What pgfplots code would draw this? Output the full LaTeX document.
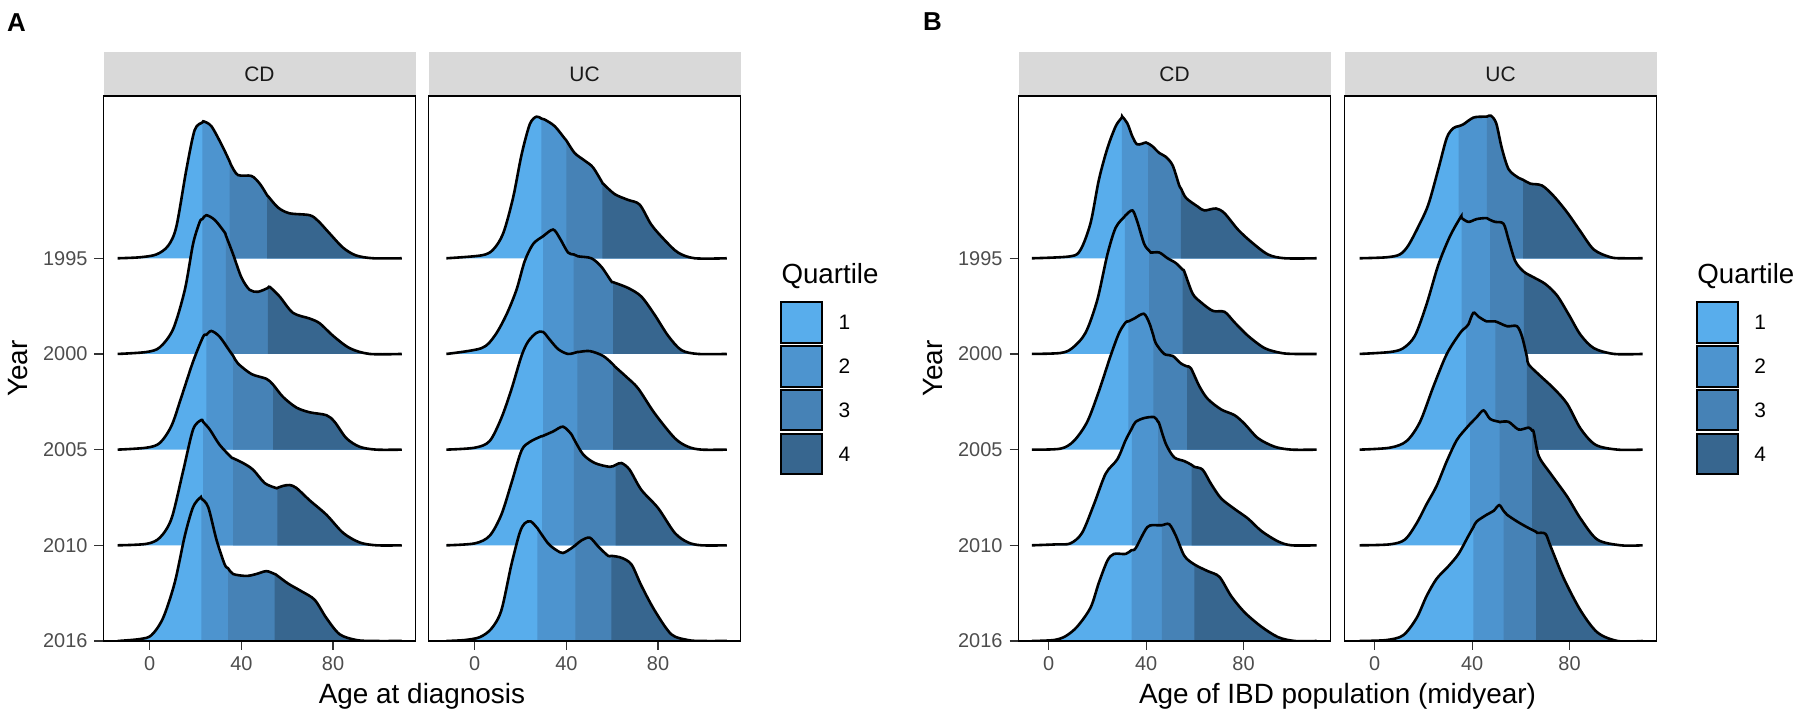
\documentclass[border=0pt]{standalone}
\usepackage{fontspec}
\setmainfont{Liberation Sans}
\usepackage{pgfplots}
\pgfplotsset{compat=1.18}
\usepackage{pgfplotstable}

\definecolor{qa}{HTML}{58ADEC}
\definecolor{qb}{HTML}{4D94CF}
\definecolor{qc}{HTML}{4682B6}
\definecolor{qd}{HTML}{37668F}
\definecolor{tickgrey}{HTML}{4D4D4D}
\definecolor{stripgrey}{HTML}{D9D9D9}

% ---------- Panel A, CD (age at diagnosis) ----------
\pgfplotstableread{
x h
-14 0
-4.4 0.01
2.9 0.04
8 0.13
11.6 0.33
16 0.93
19.6 1.34
23 1.42
23.6 1.43
26.9 1.38
31.3 1.19
34.9 1.01
35.6 0.97
38.5 0.87
44.4 0.86
48 0.78
51.2 0.66
51.6 0.65
56 0.53
61 0.47
69.8 0.45
73.5 0.39
78.5 0.26
84.4 0.11
90 0.03
97.5 0
110 0
}\aCDa
\pgfplotstableread{
x h
-14 0
-1.5 0.02
4.4 0.07
10.2 0.26
15.3 0.67
18.9 1.15
21.8 1.38
23 1.41
24.7 1.45
28.4 1.40
32.7 1.27
33.2 1.24
36.4 1.04
40 0.80
43.6 0.67
47.3 0.65
51.6 0.69
52.4 0.70
56.7 0.60
62.5 0.43
69.8 0.37
74.2 0.32
80 0.19
87.3 0.06
96 0
110 0
}\aCDb
\pgfplotstableread{
x h
-14 0
-1.5 0.02
4.4 0.07
9.5 0.25
13.8 0.55
18.9 0.92
23.3 1.18
24.7 1.20
26.9 1.24
30.5 1.18
34.9 1.03
36.4 0.98
38.5 0.90
44.4 0.79
50.9 0.74
53.8 0.68
58.2 0.55
64 0.44
69.8 0.39
77.1 0.36
80.7 0.29
85.8 0.12
91.6 0.03
98.9 0
110 0
}\aCDc
\pgfplotstableread{
x h
-14 0
-1.5 0.015
4.4 0.08
9.5 0.28
14.5 0.77
18.9 1.21
22.5 1.31
23.3 1.29
26.2 1.21
30.5 1.05
35.6 0.92
36.4 0.91
40.7 0.86
45.1 0.79
50.2 0.65
55 0.60
55.7 0.60
58 0.62
61 0.63
64 0.60
69.8 0.47
77.1 0.32
84.4 0.13
91.6 0.03
99 0
110 0
}\aCDd
\pgfplotstableread{
x h
-14 0
-4.4 0.02
0.7 0.06
5.8 0.24
10.9 0.61
15.3 1.10
18.9 1.40
22.1 1.50
22.5 1.49
25.5 1.40
29.1 1.06
32.7 0.80
34.2 0.76
36.4 0.70
42.2 0.68
46.5 0.70
50.9 0.73
54.5 0.70
55.3 0.69
60.4 0.60
66.2 0.52
72 0.43
77.1 0.24
82.9 0.07
90.2 0.01
97.5 0
110 0
}\aCDe

% ---------- Panel A, UC ----------
\pgfplotstableread{
x h
-12.4 0
2.9 0.03
8 0.09
12.4 0.26
16.7 0.63
20.4 1.08
24 1.40
26.9 1.48
29.1 1.46
30.5 1.45
34.9 1.38
39.3 1.25
40 1.23
43.6 1.10
48 1.02
51.6 0.95
55.7 0.79
56 0.78
61.1 0.67
66.9 0.61
72 0.56
77.1 0.35
82.9 0.19
88.7 0.06
96 0
110 0
}\aUCa
\pgfplotstableread{
x h
-12.4 0
2.9 0.06
8.7 0.19
13.8 0.41
18.2 0.67
21.8 0.97
25.5 1.15
29.8 1.23
34.2 1.30
37.1 1.21
40.7 1.06
43.2 1.04
45.1 1.02
50.9 1.00
55.3 0.91
59.6 0.76
60.4 0.75
66.9 0.69
72.7 0.60
78.5 0.41
84.4 0.19
90.2 0.04
97.5 0
110 0
}\aUCb
\pgfplotstableread{
x h
-12.4 0
0 0.02
6.5 0.09
11.6 0.33
16 0.63
20.4 0.98
23.3 1.13
26.9 1.22
29.8 1.23
32.7 1.15
36.4 1.05
40.7 1.00
44.8 1.02
45.1 1.02
50.2 1.03
56 0.98
60.4 0.89
61.1 0.87
66.2 0.76
71.3 0.64
78.5 0.38
87.3 0.12
93.1 0.03
99 0
110 0
}\aUCc
\pgfplotstableread{
x h
-12.4 0
0 0.02
6.5 0.10
11.6 0.32
16 0.65
20.4 0.99
24 1.08
29.1 1.14
29.4 1.14
34.2 1.19
38.5 1.24
42.2 1.16
43.3 1.11
47.3 0.95
52.4 0.86
58.9 0.82
61.5 0.84
64 0.86
67.6 0.79
72.7 0.58
80 0.39
87.3 0.13
93.1 0.03
99 0
110 0
}\aUCd
\pgfplotstableread{
x h
-12.4 0
-4.4 0.01
2.2 0.04
7.3 0.13
11.6 0.32
16 0.80
19.6 1.13
21.8 1.23
24.4 1.25
27.3 1.18
27.6 1.17
32 1.02
35.6 0.95
38.5 0.92
42.2 0.97
43.9 1.00
46.5 1.05
50.2 1.08
53.8 0.99
58.2 0.89
59.6 0.89
64 0.87
68.4 0.80
72.7 0.58
78.5 0.32
85.8 0.07
93.1 0.01
99 0
110 0
}\aUCe

% ---------- Panel B, CD (age of IBD population) ----------
\pgfplotstableread{
x h
-6.9 0
8.9 0.02
13.1 0.09
17.2 0.37
20.6 0.82
24.1 1.15
27.5 1.38
30 1.47
30.2 1.48
32.3 1.41
34.4 1.27
36.4 1.19
39.9 1.21
40.8 1.20
42.6 1.17
45.4 1.10
48.1 1.06
50.9 0.97
53.6 0.76
54.3 0.73
56.4 0.63
61.2 0.54
63.9 0.50
68.7 0.52
72.2 0.47
77.7 0.30
83.2 0.17
90 0.04
96.9 0
110 0
}\bCDa
\pgfplotstableread{
x h
-6.9 0
4.8 0.01
9.6 0.06
15.1 0.22
19.9 0.56
24.1 1.04
27.5 1.32
31.3 1.44
31.6 1.45
34.4 1.50
36.4 1.38
39.2 1.15
41.2 1.08
41.9 1.06
45.4 1.06
48.8 1.00
52.2 0.95
55 0.88
55.7 0.86
59.1 0.63
62.5 0.54
67.4 0.45
72.2 0.44
76.3 0.33
81.8 0.19
88.7 0.06
95.5 0.01
101 0
110 0
}\bCDb
\pgfplotstableread{
x h
-6.9 0
4.8 0.01
10.3 0.09
15.8 0.29
20.6 0.61
25.4 0.98
28.9 1.22
31.6 1.33
32.7 1.34
35.1 1.37
39 1.42
41.2 1.33
43 1.19
44 1.11
47.4 1.00
50.9 0.98
54.3 0.90
56.8 0.87
58.4 0.85
61.9 0.66
65.3 0.53
70.8 0.42
76.3 0.36
80.4 0.27
85.9 0.12
92.8 0.03
99.7 0
110 0
}\bCDc
\pgfplotstableread{
x h
-6.9 0
3.4 0.01
8.9 0.02
13.7 0.13
18.6 0.43
23.4 0.75
28.2 0.90
31.6 1.10
34.1 1.22
35.7 1.29
39.2 1.33
43.3 1.34
44.9 1.29
45.4 1.27
48.1 1.06
51.5 0.92
55.7 0.88
58.7 0.84
59.8 0.82
63.2 0.79
66.7 0.64
70.8 0.49
76.3 0.38
81.8 0.28
87.3 0.15
94.2 0.04
99.7 0
110 0
}\bCDd
\pgfplotstableread{
x h
-6.9 0
2.1 0.01
6.9 0.05
11.7 0.15
17.2 0.35
20.6 0.61
24.1 0.84
26.8 0.91
31.6 0.91
34 0.95
35.7 0.97
40.5 1.19
44.7 1.21
46.5 1.21
49.5 1.22
52.2 1.10
55.7 0.89
59.8 0.80
65.3 0.73
70.1 0.67
74.9 0.47
80.4 0.30
87.3 0.15
94.2 0.04
101 0
110 0
}\bCDe

% ---------- Panel B, UC ----------
\pgfplotstableread{
x h
-6.2 0
4.8 0.01
10.3 0.04
13.7 0.13
17.9 0.33
22 0.56
26.1 0.93
29.6 1.26
32.3 1.36
34.4 1.38
36.4 1.40
40.5 1.47
44.7 1.48
46 1.48
47.7 1.49
49.9 1.41
52.2 1.15
55 0.93
59.1 0.84
60.9 0.82
63.9 0.78
68.7 0.76
73.5 0.65
79 0.48
84.5 0.28
90 0.09
96.9 0.01
102 0
110 0
}\bUCa
\pgfplotstableread{
x h
-6.2 0
6.2 0.02
11.7 0.06
16.5 0.19
21.3 0.52
26.1 0.93
30.9 1.23
35.3 1.43
35.7 1.42
38.5 1.38
41.9 1.41
46 1.42
47.4 1.40
49.5 1.38
52.9 1.36
55 1.19
57.7 0.97
61.2 0.86
65.3 0.80
70.1 0.73
74.9 0.61
79.7 0.41
84.5 0.20
90 0.06
98.3 0
110 0
}\bUCb
\pgfplotstableread{
x h
-6.2 0
6.2 0.02
13.1 0.09
18.6 0.29
24.1 0.66
29.6 1.00
35.1 1.22
37.5 1.28
38.5 1.31
40.5 1.43
42.6 1.39
46 1.34
49.5 1.34
54.3 1.29
58.4 1.29
60.5 1.18
62.5 0.97
63.2 0.89
68 0.77
73.5 0.64
79 0.48
84.5 0.22
90.7 0.05
99.7 0
110 0
}\bUCc
\pgfplotstableread{
x h
-6.2 0
6.2 0.01
12.4 0.06
17.2 0.23
21.3 0.43
25.4 0.62
29.6 0.88
33.7 1.10
37.8 1.23
39.2 1.27
41.9 1.34
44.7 1.41
47.4 1.32
51.3 1.29
51.5 1.29
55 1.29
59.1 1.21
63.2 1.23
64.6 1.20
65.3 1.18
67.4 0.93
72.2 0.75
79 0.51
84.5 0.28
91.4 0.06
101 0
110 0
}\bUCd
\pgfplotstableread{
x h
-6.2 0
4.8 0.01
11.7 0.06
17.2 0.24
21.3 0.47
25.4 0.65
30.2 0.78
34.4 0.91
38.5 1.10
40.5 1.19
41.9 1.25
46 1.32
48.8 1.36
51.1 1.42
52.9 1.36
54.3 1.32
58.4 1.25
62.5 1.19
66.3 1.14
66.7 1.13
70.1 1.12
72.2 0.99
77.7 0.65
84.5 0.32
91.4 0.09
99.7 0
110 0
}\bUCe

% #1 table, #2 baseline shift, #3 #4 #5 quartile cut points
% fills are layered left to right so that no seam shows between quartiles
\newcommand{\ridge}[5]{%
\addplot[fill=qa, draw=none, smooth, yshift=#2, forget plot] table[x=x, y=h] {#1} \closedcycle;
\addplot[fill=qb, draw=none, smooth, yshift=#2, restrict x to domain=#3:200, forget plot] table[x=x, y=h] {#1} \closedcycle;
\addplot[fill=qc, draw=none, smooth, yshift=#2, restrict x to domain=#4:200, forget plot] table[x=x, y=h] {#1} \closedcycle;
\addplot[fill=qd, draw=none, smooth, yshift=#2, restrict x to domain=#5:200, forget plot] table[x=x, y=h] {#1} \closedcycle;
\addplot[black, line width=1.3bp, smooth, yshift=#2, forget plot] table[x=x, y=h] {#1};
}

\pgfplotsset{ridgebase/.style={
  scale only axis, width=156bp, height=272.5bp,
  anchor=south west,
  ymin=0, ymax=5.696,
  axis on top,
  xtick={0,40,80}, xticklabels={0,40,80},
  ytick={0,1,2,3,4}, yticklabels={2016,2010,2005,2000,1995},
  tick pos=left, tick align=outside,
  major tick length=4.5bp,
  tick style={line width=0.6bp, color=black!80},
  axis line style={line width=0.7bp, black},
  tick label style={font=\fontsize{10}{12}\selectfont, text=tickgrey},
  /pgf/number format/assume math mode=true,
  clip=true,
}}

\newcommand{\qlegend}[1]{%
\begin{scope}[shift={(#1bp,0bp)}]
\node[anchor=west, inner sep=0pt, font=\fontsize{13.9}{16}\selectfont] at (0.2bp,220bp) {Quartile};
\draw[fill=qa, line width=1bp] (0bp,206.85bp) rectangle (20.8bp,186.65bp);
\draw[fill=qb, line width=1bp] (0bp,184.9bp) rectangle (20.8bp,164.7bp);
\draw[fill=qc, line width=1bp] (0bp,162.95bp) rectangle (20.8bp,142.75bp);
\draw[fill=qd, line width=1bp] (0bp,141.0bp) rectangle (20.8bp,120.8bp);
\node[anchor=west, inner sep=0pt, font=\fontsize{10.5}{12}\selectfont] at (28.7bp,196.75bp) {1};
\node[anchor=west, inner sep=0pt, font=\fontsize{10.5}{12}\selectfont] at (28.7bp,174.8bp) {2};
\node[anchor=west, inner sep=0pt, font=\fontsize{10.5}{12}\selectfont] at (28.7bp,152.85bp) {3};
\node[anchor=west, inner sep=0pt, font=\fontsize{10.5}{12}\selectfont] at (28.7bp,130.9bp) {4};
\end{scope}}

\newcommand{\strip}[2]{%
\fill[stripgrey] (#1bp,310bp) rectangle ++(156bp,22bp);
\node[font=\fontsize{10.5}{12}\selectfont, text=black!90] at ([xshift=78bp]#1bp,321bp) {#2};
}

\begin{document}
\begin{tikzpicture}
\path[use as bounding box] (0,0) rectangle (900bp,358bp);

\strip{51.75}{CD}
\strip{214.25}{UC}
\strip{509.25}{CD}
\strip{672.25}{UC}

% A - CD
\begin{axis}[ridgebase, at={(51.75bp,37.5bp)}, xmin=-20.2, xmax=116]
\ridge{\aCDa}{191.3624bp}{23}{34.9}{51.2}
\ridge{\aCDb}{143.5218bp}{23}{33.2}{51.6}
\ridge{\aCDc}{95.6812bp}{24.7}{36.4}{53.8}
\ridge{\aCDd}{47.8406bp}{23.3}{36.4}{55.7}
\ridge{\aCDe}{0bp}{22.5}{34.2}{54.5}
\end{axis}

% A - UC
\begin{axis}[ridgebase, at={(214.25bp,37.5bp)}, xmin=-20.2, xmax=116, ytick=\empty]
\ridge{\aUCa}{191.3624bp}{29.1}{40}{55.7}
\ridge{\aUCb}{143.5218bp}{29.8}{43.2}{60.4}
\ridge{\aUCc}{95.6812bp}{29.8}{44.8}{60.4}
\ridge{\aUCd}{47.8406bp}{29.4}{43.3}{61.5}
\ridge{\aUCe}{0bp}{27.3}{43.9}{59.6}
\end{axis}

% B - CD
\begin{axis}[ridgebase, at={(509.25bp,37.5bp)}, xmin=-12.4, xmax=115.7]
\ridge{\bCDa}{191.3624bp}{30}{40.8}{54.3}
\ridge{\bCDb}{143.5218bp}{31.3}{41.2}{55}
\ridge{\bCDc}{95.6812bp}{32.7}{43}{56.8}
\ridge{\bCDd}{47.8406bp}{34.1}{44.9}{58.7}
\ridge{\bCDe}{0bp}{34}{46.5}{59.8}
\end{axis}

% B - UC
\begin{axis}[ridgebase, at={(672.25bp,37.5bp)}, xmin=-12.4, xmax=115.7, ytick=\empty]
\ridge{\bUCa}{191.3624bp}{34.4}{46}{60.9}
\ridge{\bUCb}{143.5218bp}{35.7}{47.4}{61.2}
\ridge{\bUCc}{95.6812bp}{37.5}{49.5}{62.5}
\ridge{\bUCd}{47.8406bp}{39.2}{51.3}{64.6}
\ridge{\bUCe}{0bp}{40.5}{52.9}{66.3}
\end{axis}

% legends
\qlegend{390.35}
\qlegend{848.3}

% axis titles
\node[rotate=90, font=\fontsize{14}{16}\selectfont] at (9bp,173.75bp) {Year};
\node[rotate=90, font=\fontsize{14}{16}\selectfont] at (466.5bp,173.75bp) {Year};
\node[font=\fontsize{14}{16}\selectfont] at (211bp,10bp) {Age at diagnosis};
\node[font=\fontsize{14}{16}\selectfont] at (668.75bp,10bp) {Age of IBD population (midyear)};

% panel tags
\node[font=\bfseries\fontsize{13}{15}\selectfont] at (8.25bp,346.75bp) {A};
\node[font=\bfseries\fontsize{13}{15}\selectfont] at (466.25bp,347bp) {B};
\end{tikzpicture}
\end{document}
